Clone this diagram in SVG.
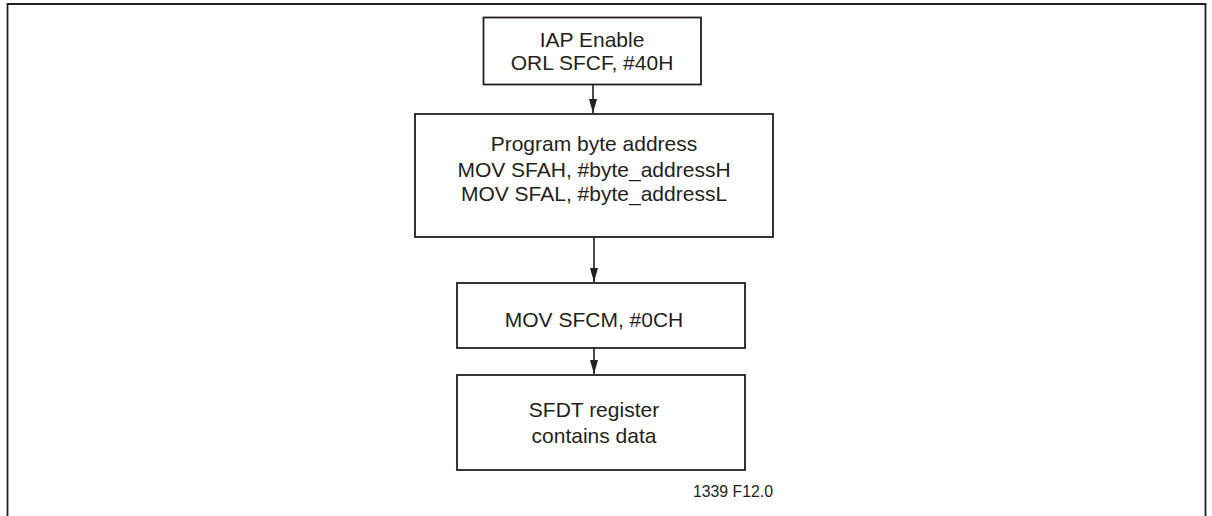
<svg xmlns="http://www.w3.org/2000/svg" width="1212" height="516" viewBox="0 0 1212 516">
<style>
.box{fill:#fff;stroke:#231f20;stroke-width:1.8}
.t{font-family:"Liberation Sans",Arial,sans-serif;font-size:21px;fill:#231f20;text-anchor:middle}
.lbl{font-family:"Liberation Sans",Arial,sans-serif;font-size:15.8px;fill:#231f20}
.c{stroke:#231f20;stroke-width:1.6;fill:none;marker-end:url(#ah)}
</style>
<defs>
<marker id="ah" markerUnits="userSpaceOnUse" markerWidth="14" markerHeight="8" refX="14" refY="4" orient="auto" viewBox="0 0 14 8">
<path d="M0,0 L14,4 L0,8 Z" fill="#231f20"/>
</marker>
</defs>
<rect width="1212" height="516" fill="#fff"/>
<path d="M7.5,520 V4 H1205.5 V520" fill="none" stroke="#231f20" stroke-width="1.8"/>
<g id="connectors">
<line class="c" x1="593" y1="84.5" x2="593" y2="113"/>
<line class="c" x1="594" y1="237" x2="594" y2="282"/>
<line class="c" x1="594" y1="348" x2="594" y2="374"/>
</g>
<g id="n1">
<rect class="box" x="483.5" y="17.5" width="217.5" height="67"/>
<text class="t" x="592" y="46.5">IAP Enable</text>
<text class="t" x="592" y="70">ORL SFCF, #40H</text>
</g>
<g id="n2">
<rect class="box" x="415" y="114" width="358" height="123"/>
<text class="t" x="594" y="151">Program byte address</text>
<text class="t" x="594" y="177">MOV SFAH, #byte_addressH</text>
<text class="t" x="594" y="201">MOV SFAL, #byte_addressL</text>
</g>
<g id="n3">
<rect class="box" x="457" y="283" width="288" height="65"/>
<text class="t" x="594" y="327">MOV SFCM, #0CH</text>
</g>
<g id="n4">
<rect class="box" x="457" y="375" width="288" height="95"/>
<text class="t" x="594" y="417">SFDT register</text>
<text class="t" x="594" y="443">contains data</text>
</g>
<text class="lbl" x="693" y="497">1339 F12.0</text>
</svg>
